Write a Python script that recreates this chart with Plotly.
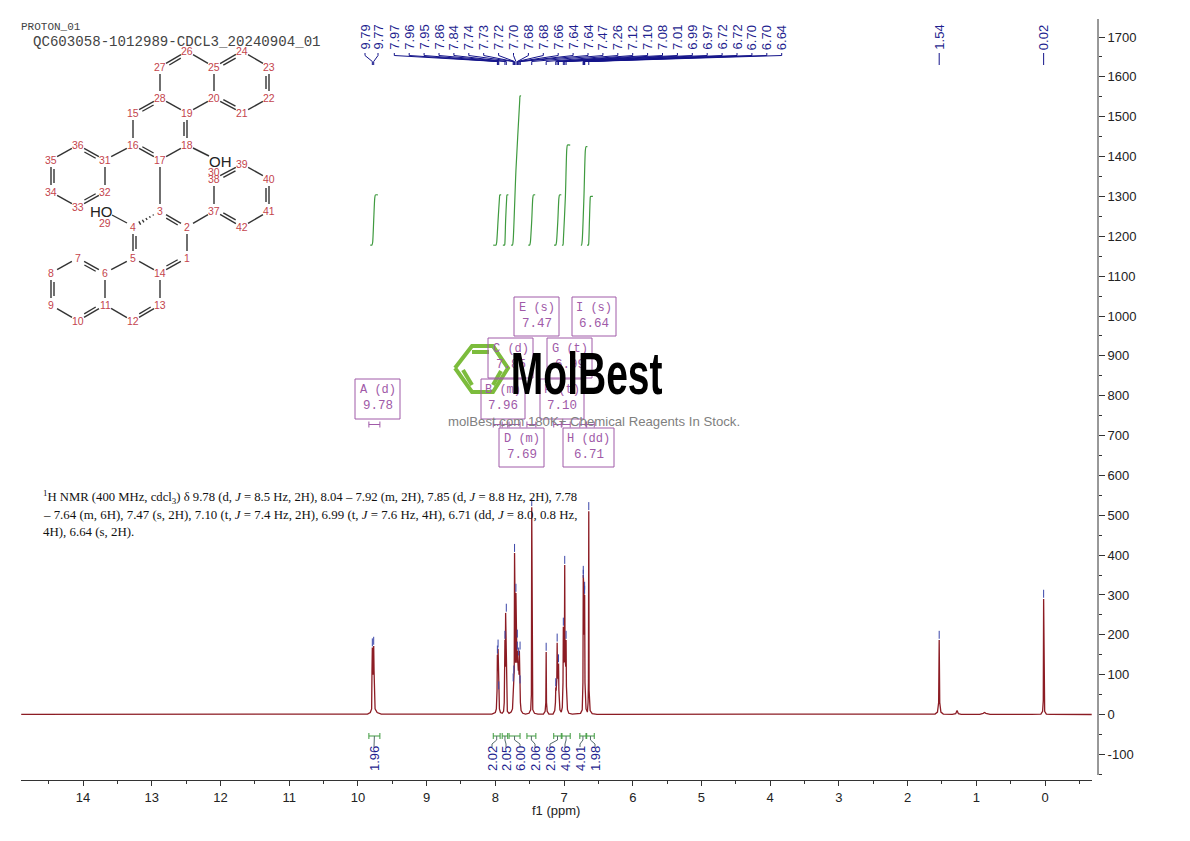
import math
import plotly.graph_objects as go

# ---------- spectrum (ppm, intensity) ----------
SPEC_PPM = [14.90, 12.00, 10.00, 9.86, 9.82, 9.80, 9.795, 9.79, 9.78, 9.77, 9.765, 9.75, 9.72, 9.66,
            8.05, 8.00, 7.985, 7.975, 7.97, 7.965, 7.96, 7.955, 7.95, 7.94, 7.925, 7.90,
            7.88, 7.87, 7.86, 7.855, 7.85, 7.84, 7.835, 7.825, 7.80,
            7.77, 7.75, 7.74, 7.735, 7.73, 7.725, 7.72, 7.715, 7.705, 7.70, 7.695, 7.69, 7.685, 7.68, 7.675,
            7.67, 7.665, 7.66, 7.655, 7.65, 7.645, 7.64, 7.635, 7.625, 7.60, 7.56,
            7.51, 7.485, 7.475, 7.47, 7.465, 7.455, 7.43, 7.38,
            7.30, 7.275, 7.265, 7.26, 7.255, 7.245, 7.22, 7.16,
            7.135, 7.125, 7.12, 7.115, 7.105, 7.10, 7.095, 7.085, 7.08, 7.075, 7.06, 7.04,
            7.025, 7.015, 7.01, 7.005, 6.995, 6.99, 6.985, 6.975, 6.97, 6.965, 6.95, 6.93, 6.88,
            6.76, 6.735, 6.725, 6.72, 6.715, 6.71, 6.705, 6.70, 6.695, 6.68, 6.66, 6.65, 6.645, 6.64, 6.635, 6.62, 6.59, 6.52,
            6.00, 3.00, 2.00, 1.60, 1.565, 1.548, 1.54, 1.532, 1.515, 1.48, 1.35, 1.30, 1.28, 1.26, 1.22,
            0.95, 0.90, 0.88, 0.86, 0.80, 0.20, 0.06, 0.035, 0.025, 0.02, 0.015, 0.005, -0.02, -0.08, -0.68]
SPEC_INT = [0.5, 0.5, 0.5, 1, 5, 14, 110, 168, 100, 172, 110, 14, 5, 1,
            1, 5, 14, 60, 150, 110, 165, 100, 60, 14, 5, 3,
            8, 30, 187, 120, 255, 120, 30, 8, 3,
            6, 14, 80, 60, 100, 110, 405, 150, 130, 305, 140, 190, 130, 160, 120,
            145, 110, 130, 100, 160, 90, 75, 30, 10, 3, 1,
            3, 12, 50, 520, 50, 12, 3, 1,
            1, 8, 30, 157, 30, 8, 1, 1,
            10, 30, 68, 60, 90, 180, 100, 90, 128, 60, 12, 6,
            18, 80, 220, 130, 140, 375, 140, 120, 187, 70, 12, 3, 1,
            3, 12, 80, 350, 200, 310, 200, 300, 80, 14, 6, 30, 80, 510, 60, 10, 2, 0.5,
            0.5, 0.5, 0.5, 1, 6, 30, 187, 30, 6, 1, 0.5, 2, 10, 2, 0.5,
            0.5, 3, 5, 3, 0.5, 0.5, 1, 8, 35, 290, 35, 8, 1, 0.5, 0]

# ---------- picked peaks ----------
PEAK_PPM = [9.79, 9.77, 7.97, 7.96, 7.95, 7.86, 7.84, 7.74, 7.73, 7.72, 7.70, 7.68, 7.68, 7.66, 7.64, 7.64,
            7.47, 7.26, 7.12, 7.10, 7.08, 7.01, 6.99, 6.97, 6.72, 6.72, 6.70, 6.70, 6.64, 1.54, 0.02]
PEAK_TOP = [168, 172, 150, 165, 60, 187, 255, 80, 100, 405, 305, 190, 160, 145, 160, 75,
            520, 157, 68, 180, 128, 220, 375, 187, 350, 340, 310, 300, 510, 187, 290]
PEAK_TXT = ["9.79", "9.77", "7.97", "7.96", "7.95", "7.86", "7.84", "7.74", "7.73", "7.72", "7.70", "7.68", "7.68",
            "7.66", "7.64", "7.64", "7.47", "7.26", "7.12", "7.10", "7.08", "7.01", "6.99", "6.97", "6.72", "6.72",
            "6.70", "6.70", "6.64", "1.54", "0.02"]

# ---------- integrals ----------
INT_VALUE = ["1.96", "2.02", "2.05", "6.00", "2.06", "2.06", "4.06", "4.01", "1.98"]
INT_LO = [9.84, 8.03, 7.90, 7.80, 7.54, 7.15, 7.03, 6.77, 6.67]
INT_HI = [9.68, 7.93, 7.82, 7.64, 7.41, 7.04, 6.91, 6.68, 6.56]
INT_CURVE_PPM = [[9.82, 9.795, 9.785, 9.77, 9.755, 9.745, 9.71], [8.03, 7.99, 7.98, 7.96, 7.94, 7.935, 7.915],
                 [7.89, 7.865, 7.86, 7.85, 7.835, 7.83, 7.81], [7.77, 7.75, 7.74, 7.70, 7.645, 7.64, 7.625],
                 [7.52, 7.50, 7.49, 7.47, 7.455, 7.445, 7.42], [7.145, 7.12, 7.11, 7.09, 7.075, 7.065, 7.04],
                 [7.03, 7.015, 7.01, 6.98, 6.96, 6.95, 6.91], [6.755, 6.745, 6.735, 6.71, 6.69, 6.68, 6.66],
                 [6.665, 6.645, 6.64, 6.63, 6.62, 6.615, 6.58]]
INT_CURVE_VAL = [[1178, 1178, 1185, 1240, 1295, 1304, 1304], [1178, 1178, 1185, 1240, 1295, 1304, 1304],
                 [1178, 1178, 1185, 1240, 1295, 1304, 1304], [1178, 1178, 1190, 1365, 1540, 1552, 1552],
                 [1178, 1178, 1185, 1240, 1295, 1304, 1304], [1178, 1178, 1185, 1240, 1295, 1304, 1304],
                 [1178, 1178, 1190, 1300, 1418, 1429, 1429], [1178, 1178, 1190, 1300, 1415, 1425, 1425],
                 [1178, 1178, 1185, 1240, 1292, 1300, 1300]]

# ---------- multiplet boxes ----------
BOX_TITLE = ["A (d)", "B (m)", "C (d)", "D (m)", "E (s)", "F (t)", "G (t)", "H (dd)", "I (s)"]
BOX_SHIFT = ["9.78", "7.96", "7.85", "7.69", "7.47", "7.10", "6.99", "6.71", "6.64"]

# ---------- ticks ----------
X_TICKS = list(range(14, -1, -1))
Y_TICKS = list(range(-100, 1800, 100))
NMR_LINES = ["<sup>1</sup>H NMR (400 MHz, cdcl<sub>3</sub>) δ 9.78 (d, <i>J</i> = 8.5 Hz, 2H), 8.04 – 7.92 (m, 2H), 7.85 (d, <i>J</i> = 8.8 Hz, 2H), 7.78",
             "– 7.64 (m, 6H), 7.47 (s, 2H), 7.10 (t, <i>J</i> = 7.4 Hz, 2H), 6.99 (t, <i>J</i> = 7.6 Hz, 4H), 6.71 (dd, <i>J</i> = 8.0, 0.8 Hz,",
             "4H), 6.64 (s, 2H)."]

# ---------- molecule drawing coordinates (atom number -> page pixel) ----------
ATOMS = {1: (187, 258), 2: (187, 227), 3: (160, 211), 4: (133, 227), 5: (133, 258), 14: (160, 273), 13: (160, 305),
         12: (133, 321), 11: (105, 305), 6: (105, 273), 7: (78, 258), 8: (51, 273), 9: (51, 305), 10: (78, 321),
         37: (214, 211), 38: (214, 179), 39: (242, 164), 40: (269, 179), 41: (269, 211), 42: (242, 227),
         17: (160, 160), 16: (133, 145), 15: (133, 113), 28: (160, 98), 19: (187, 113), 18: (187, 145),
         31: (105, 160), 32: (105, 192), 33: (78, 207), 34: (51, 192), 35: (51, 160), 36: (78, 145),
         20: (214, 98), 21: (242, 113), 22: (269, 98), 23: (269, 67), 24: (242, 51), 25: (214, 67),
         26: (187, 51), 27: (160, 67)}
SINGLE = [(1, 2), (5, 14), (14, 13), (12, 11), (10, 9), (8, 7), (6, 5), (6, 11), (2, 37), (42, 41), (40, 39),
          (38, 37), (3, 17), (16, 15), (28, 19), (18, 17), (16, 31), (31, 32), (34, 33), (35, 36), (20, 25),
          (19, 20), (21, 22), (23, 24), (25, 26), (27, 28)]
# double bonds: (atom, atom, atom the inner line leans towards)
DOUBLE = [(2, 3, 14), (4, 5, 14), (14, 1, 2), (13, 12, 14), (11, 10, 8), (9, 8, 11), (7, 6, 9), (37, 42, 40),
          (41, 40, 38), (39, 38, 41), (17, 16, 19), (15, 28, 17), (19, 18, 16), (31, 36, 34), (32, 33, 35), (34, 35, 32),
          (20, 21, 23), (22, 23, 25), (24, 25, 22), (26, 27, 20)]
EXTRA_BONDS = [((193, 148), (209, 156)), ((127, 223), (112, 215))]

# ---------- page geometry ----------
W, H = 1190, 841
PX_X0, PX_PER_PPM = 1045.0, 68.71
PY_0, PY_PER_UNIT = 714.5, 0.3985


def ppm_of(px):
    return (PX_X0 - px) / PX_PER_PPM


def val_of(py):
    return (PY_0 - py) / PY_PER_UNIT


def px_of(p):
    return PX_X0 - p * PX_PER_PPM


BLUE = "#1f1f8f"
RED = "#8c1c24"
GREEN = "#3f9a3f"
PURPLE = "#a05aa8"
TICK_COL = "#333333"

fig = go.Figure()

# spectrum
fig.add_trace(go.Scatter(x=SPEC_PPM, y=SPEC_INT, mode="lines", line=dict(color=RED, width=1.3), hoverinfo="skip"))

# peak-top dashes
dx, dy = [], []
for p, t in zip(PEAK_PPM, PEAK_TOP):
    dx += [p, p, None]
    dy += [t + 3, t + 23, None]
fig.add_trace(go.Scatter(x=dx, y=dy, mode="lines", line=dict(color="#3a45a8", width=1), hoverinfo="skip"))

# peak-label connectors
label_px = {}
for i, t in enumerate(PEAK_TXT):
    if i == 0:
        label_px[i] = 365.0
    elif i == 1:
        label_px[i] = 378.0
    elif i <= 28:
        label_px[i] = 394.3 + (i - 2) * 14.9
    else:
        label_px[i] = px_of(PEAK_PPM[i])
cx, cy = [], []
for i, p in enumerate(PEAK_PPM):
    lx = ppm_of(label_px[i])
    cx += [lx, lx, p, p, None]
    cy += [val_of(53), val_of(55.5), val_of(61.5), val_of(65), None]
fig.add_trace(go.Scatter(x=cx, y=cy, mode="lines", line=dict(color="#14148a", width=1), hoverinfo="skip"))

# integral curves
for xs, ys in zip(INT_CURVE_PPM, INT_CURVE_VAL):
    fig.add_trace(go.Scatter(x=xs, y=ys, mode="lines", line=dict(color=GREEN, width=1.2, shape="spline", smoothing=0.6), hoverinfo="skip"))

# integral brackets (green), multiplet ranges (purple)
gx, gy, px_, py_, lx_, ly_ = [], [], [], [], [], []
INT_LABEL_PX = [374, 492, 506, 520, 535, 550, 565, 580, 595]
for lo, hi, lab in zip(INT_LO, INT_HI, INT_LABEL_PX):
    for (xs, ys, yc, cap) in ((gx, gy, 736, 3), (px_, py_, 424.5, 3)):
        xs += [lo, lo, None, lo, hi, None, hi, hi, None]
        ys += [val_of(yc - cap), val_of(yc + cap), None, val_of(yc), val_of(yc), None, val_of(yc - cap), val_of(yc + cap), None]
    mid = (lo + hi) / 2
    lx_ += [mid, mid, ppm_of(lab), ppm_of(lab), None]
    ly_ += [val_of(736), val_of(740), val_of(744), val_of(747), None]
fig.add_trace(go.Scatter(x=gx, y=gy, mode="lines", line=dict(color=GREEN, width=1), hoverinfo="skip"))
fig.add_trace(go.Scatter(x=lx_, y=ly_, mode="lines", line=dict(color="#556b6b", width=1), hoverinfo="skip"))
fig.add_trace(go.Scatter(x=px_, y=py_, mode="lines", line=dict(color=PURPLE, width=1), hoverinfo="skip"))

# ---------- overlay in page pixels: molecule, logo, boxes ----------
mx, my = [], []


def shorten(a, b, k):
    d = math.dist(a, b)
    ux, uy = (b[0] - a[0]) / d, (b[1] - a[1]) / d
    return (a[0] + ux * k, a[1] + uy * k), (b[0] - ux * k, b[1] - uy * k)


for a, b in SINGLE:
    p, q = shorten(ATOMS[a], ATOMS[b], 7)
    mx += [p[0], q[0], None]
    my += [p[1], q[1], None]
for a, b, lean in DOUBLE:
    p, q = shorten(ATOMS[a], ATOMS[b], 7)
    mx += [p[0], q[0], None]
    my += [p[1], q[1], None]
    A, B, C = ATOMS[a], ATOMS[b], ATOMS[lean]
    d = math.dist(A, B)
    nx, ny = -(B[1] - A[1]) / d, (B[0] - A[0]) / d
    if (C[0] - A[0]) * nx + (C[1] - A[1]) * ny < 0:
        nx, ny = -nx, -ny
    p, q = shorten(A, B, 9)
    mx += [p[0] + nx * 3, q[0] + nx * 3, None]
    my += [p[1] + ny * 3, q[1] + ny * 3, None]
for p, q in EXTRA_BONDS:
    mx += [p[0], q[0], None]
    my += [p[1], q[1], None]
# hashed bond 3-4
for k in range(2, 7):
    f = k / 8
    bx = 160 + (133 - 160) * f
    by = 211 + (227 - 211) * f
    s = 0.3 * k
    mx += [bx - s * 0.5, bx + s * 0.5, None]
    my += [by - s * 0.85, by + s * 0.85, None]
fig.add_trace(go.Scatter(x=mx, y=my, xaxis="x2", yaxis="y2", mode="lines", line=dict(color="#333333", width=1.4), hoverinfo="skip"))

# right-hand axis line (stops above the bottom axis)
fig.add_trace(go.Scatter(x=[1098, 1098], y=[19, 775], xaxis="x2", yaxis="y2", mode="lines", line=dict(color=TICK_COL, width=1), hoverinfo="skip"))

# multiplet boxes
BOX_RECT = [(355, 379, 400, 419), (481, 379, 525, 419), (488, 338, 533, 378), (499, 428, 544, 467), (514, 297, 559, 336),
            (540, 379, 584, 419), (547, 338, 592, 378), (563, 428, 614, 467), (572, 297, 616, 336)]
shapes = []
for r in BOX_RECT:
    shapes.append(dict(type="rect", xref="x2", yref="y2", x0=r[0], y0=r[1], x1=r[2], y1=r[3], line=dict(color=PURPLE, width=1), fillcolor="rgba(0,0,0,0)"))

# logo hexagon and inner strokes
hx = [455, 472, 493, 508, 493, 472, 455, None, 472, 489, None, 463, 472, None, 493, 501]
hy = [368, 346, 346, 368, 392, 392, 368, None, 352, 352, None, 370, 385, None, 385, 371]
fig.add_trace(go.Scatter(x=hx, y=hy, xaxis="x2", yaxis="y2", mode="lines", line=dict(color="#7cbc3c", width=4), hoverinfo="skip"))

ann = []


def text(x, y, s, size=12, color="#222", family="Liberation Sans", angle=0, xanchor="center", yanchor="middle"):
    ann.append(dict(x=x, y=y, xref="x2", yref="y2", text=s, showarrow=False, textangle=angle,
                    font=dict(size=size, color=color, family=family), xanchor=xanchor, yanchor=yanchor,
                    borderpad=0, borderwidth=0))


for i, t in enumerate(PEAK_TXT):
    text(label_px[i], 37.5, t, size=13, color=BLUE, angle=-90)
for t, x in zip(INT_VALUE, INT_LABEL_PX):
    text(x, 759, t, size=13, color=BLUE, angle=-90)
for n, (x, y) in ATOMS.items():
    text(x, y, str(n), size=10.5, color="#c4444c")
text(214, 172, "30", size=10.5, color="#c4444c")
text(105, 223, "29", size=10.5, color="#c4444c")
text(220, 161, "OH", size=15, color="#222")
text(101, 211, "HO", size=15, color="#222")

text(21, 27, "PROTON_01", size=11, color="#444", family="Liberation Mono", xanchor="left")
text(33, 42, "QC603058-1012989-CDCL3_20240904_01", size=14.1, color="#444", family="Liberation Mono", xanchor="left")

for r, a, b in zip(BOX_RECT, BOX_TITLE, BOX_SHIFT):
    cxm = (r[0] + r[2]) / 2
    text(cxm, r[1] + 11, a, size=12, color=PURPLE, family="Liberation Mono")
    text(cxm, r[1] + 27, b, size=12.5, color=PURPLE, family="Liberation Mono")

for y, s, fs in zip((497, 515, 532), NMR_LINES, (12.7, 12.9, 12.9)):
    text(43, y, s, size=fs, color="#111", family="Liberation Serif", xanchor="left")

text(586, 373, "<b>MolBest</b>", size=60, color="#000", family="Liberation Sans")
text(594, 421, "molBest.com 180K+ Chemical Reagents In Stock.", size=13.2, color="#808080")
text(556, 810, "f1 (ppm)", size=13, color="#222")

fig.update_layout(
    width=W, height=H, margin=dict(l=0, r=0, t=0, b=0), showlegend=False,
    paper_bgcolor="white", plot_bgcolor="rgba(0,0,0,0)", shapes=shapes, annotations=ann,
    xaxis=dict(domain=[21 / W, 1092 / W], range=[ppm_of(21), ppm_of(1092)], anchor="y",
               showgrid=False, zeroline=False, showline=True, linecolor=TICK_COL, linewidth=1,
               ticks="outside", ticklen=5, tickcolor=TICK_COL, tickvals=X_TICKS, ticktext=[str(v) for v in X_TICKS],
               tickfont=dict(size=13, color="#222", family="Liberation Sans"),
               minor=dict(dtick=0.5, ticks="outside", ticklen=3, tickcolor=TICK_COL, showgrid=False)),
    yaxis=dict(domain=[(H - 780) / H, (H - 19) / H], range=[val_of(780), val_of(19)], anchor="free", position=1098 / W,
               side="right", showgrid=False, zeroline=False, showline=False,
               ticks="outside", ticklen=6, tickcolor=TICK_COL, tickvals=Y_TICKS, ticktext=[str(v) for v in Y_TICKS],
               tickfont=dict(size=13, color="#222", family="Liberation Sans"),
               minor=dict(dtick=50, ticks="outside", ticklen=3, tickcolor=TICK_COL, showgrid=False)),
    xaxis2=dict(domain=[0, 1], range=[0, W], visible=False, anchor="y2", fixedrange=True),
    yaxis2=dict(domain=[0, 1], range=[H, 0], visible=False, anchor="x2", fixedrange=True),
)

POST = """
document.body.style.margin='0';
document.querySelectorAll('.annotation-text').forEach(function(t){
  if (t.textContent === 'MolBest') {
    var b = t.getBBox();
    var c = b.x + b.width / 2;
    t.setAttribute('transform', 'translate(' + c + ',0) scale(0.65,1) translate(' + (-c) + ',0)');
  }
});
"""
fig.write_html("out.html", config={"displayModeBar": False}, post_script=POST)
